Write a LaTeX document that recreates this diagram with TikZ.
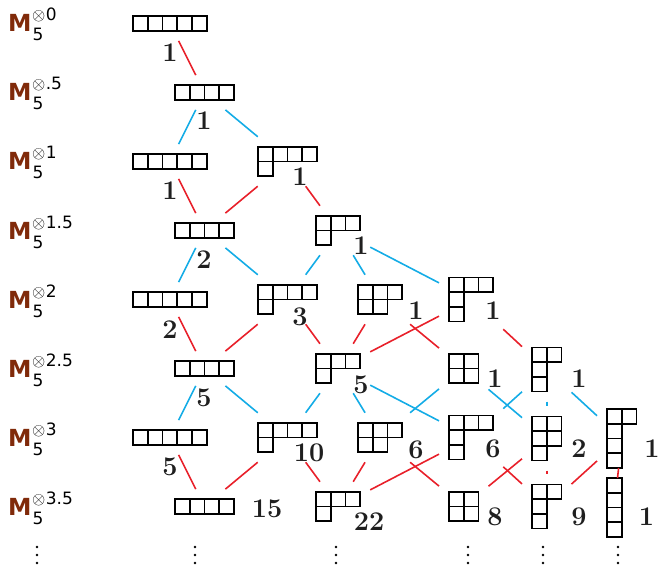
\documentclass[tikz,border=0pt]{standalone}
\usepackage{fix-cm}
\usepackage{fontspec}
\newfontfamily\labfont{DejaVu Sans}
\definecolor{mbrown}{RGB}{128,42,10}
\definecolor{myred}{RGB}{232,32,42}
\definecolor{myblue}{RGB}{20,172,230}
\def\cs{14.75}
\tikzset{
  tabnode/.style={inner sep=0pt, outer sep=0pt, rectangle},
  cell/.style={draw=black, line width=1.6pt, line join=miter},
  redl/.style={draw=myred, line width=1.6pt},
  bluel/.style={draw=myblue, line width=1.6pt},
  mult/.style={inner sep=0pt, text=black!88, font=\fontsize{27}{30}\selectfont\bfseries},
  mlab/.style={anchor=base west, inner sep=0pt, font=\labfont\fontsize{23.5}{28}\selectfont},
}
% name, left x, centre y, width in cells, height in cells, row lengths
\newcommand\ytab[6]{%
  \node[tabnode, minimum width={(#4*\cs+20)*1pt}, minimum height={(#5*\cs+20)*1pt}] (#1) at ({#2+#4*\cs/2},{#3}) {};
  \foreach \len [count=\rr from 0] in {#6} {
    \foreach \kk in {1,...,\len} {
      \draw[cell] ({#2+(\kk-1)*\cs},{#3-#5*\cs/2+\rr*\cs}) rectangle ++(\cs,\cs);
    }
  }
}
\newcommand\mlabtext[1]{\textcolor{mbrown}{\bfseries M}\kern1pt\rlap{\raisebox{-9pt}{\fontsize{17}{19}\selectfont 5}}\raisebox{11pt}{\fontsize{17}{19}\selectfont\kern-0.5pt$\otimes$\kern0.5pt#1}}
\begin{document}
\begin{tikzpicture}[x=1pt,y=-1pt]
\useasboundingbox (0,0) rectangle (660,569);

% row labels
\node[mlab] (L0) at (8,32) {\mlabtext{0}};
\node[mlab] (L1) at (8,101) {\mlabtext{.5}};
\node[mlab] (L2) at (8,170) {\mlabtext{1}};
\node[mlab] (L3) at (8,239) {\mlabtext{1.5}};
\node[mlab] (L4) at (8,308) {\mlabtext{2}};
\node[mlab] (L5) at (8,377) {\mlabtext{2.5}};
\node[mlab] (L6) at (8,446) {\mlabtext{3}};
\node[mlab] (L7) at (8,515) {\mlabtext{3.5}};

% tableaux
\ytab{a0}{133}{23.5}{5}{1}{5}
\ytab{b1}{175}{92.5}{4}{1}{4}
\ytab{a2}{133}{161.5}{5}{1}{5}
\ytab{c2}{258}{161.5}{4}{2}{4,1}
\ytab{b3}{175}{230.5}{4}{1}{4}
\ytab{d3}{316}{230.5}{3}{2}{3,1}
\ytab{a4}{133}{299.5}{5}{1}{5}
\ytab{c4}{258}{299.5}{4}{2}{4,1}
\ytab{e4}{358}{299.5}{3}{2}{3,2}
\ytab{f4}{449}{299.5}{3}{3}{3,1,1}
\ytab{b5}{175}{368.5}{4}{1}{4}
\ytab{d5}{316}{368.5}{3}{2}{3,1}
\ytab{g5}{449}{368.5}{2}{2}{2,2}
\ytab{h5}{532}{369.5}{2}{3}{2,1,1}
\ytab{a6}{133}{437.5}{5}{1}{5}
\ytab{c6}{258}{437.5}{4}{2}{4,1}
\ytab{e6}{358}{437.5}{3}{2}{3,2}
\ytab{f6}{449}{437.5}{3}{3}{3,1,1}
\ytab{i6}{532}{438.5}{2}{3}{2,2,1}
\ytab{j6}{607}{438.5}{2}{4}{2,1,1,1}
\ytab{b7}{175}{506.5}{4}{1}{4}
\ytab{d7}{316}{506.5}{3}{2}{3,1}
\ytab{g7}{449}{506.5}{2}{2}{2,2}
\ytab{h7}{532}{506.5}{2}{3}{2,1,1}
\ytab{k7}{607}{507.5}{1}{4}{1,1,1,1}

% connectors
\draw[redl] (a0) -- (b1);
\draw[bluel] (b1) -- (a2);
\draw[bluel] (b1) -- (c2);
\draw[redl] (a2) -- (b3);
\draw[redl] (c2) -- (b3);
\draw[redl] (c2) -- (d3);
\draw[bluel] (b3) -- (a4);
\draw[bluel] (b3) -- (c4);
\draw[bluel] (d3) -- (c4);
\draw[bluel] (d3) -- (e4);
\draw[bluel] (d3) -- (f4);
\draw[redl] (a4) -- (b5);
\draw[redl] (c4) -- (b5);
\draw[redl] (c4) -- (d5);
\draw[redl] (e4) -- (d5);
\draw[redl] (e4) -- (g5);
\draw[redl] (f4) -- (d5);
\draw[redl] (f4) -- (h5);
\draw[bluel] (b5) -- (a6);
\draw[bluel] (b5) -- (c6);
\draw[bluel] (d5) -- (c6);
\draw[bluel] (d5) -- (e6);
\draw[bluel] (d5) -- (f6);
\draw[bluel] (g5) -- (e6);
\draw[bluel] (g5) -- (i6);
\draw[bluel] (h5) -- (f6);
\draw[bluel] (h5) -- (i6);
\draw[bluel] (h5) -- (j6);
\draw[redl] (a6) -- (b7);
\draw[redl] (c6) -- (b7);
\draw[redl] (c6) -- (d7);
\draw[redl] (e6) -- (d7);
\draw[redl] (e6) -- (g7);
\draw[redl] (f6) -- (d7);
\draw[redl] (f6) -- (h7);
\draw[redl] (i6) -- (g7);
\draw[redl] (i6) -- (h7);
\draw[redl] (j6) -- (h7);
\draw[redl] (j6) -- (k7);

% multiplicities
\node[mult] (m0) at (170,53) {1};
\node[mult] (m1) at (204,121) {1};
\node[mult] (m2a) at (170,191) {1};
\node[mult] (m2c) at (300,177) {1};
\node[mult] (m3b) at (204,259.5) {2};
\node[mult] (m3d) at (361,246) {1};
\node[mult] (m4a) at (170,329.5) {2};
\node[mult] (m4c) at (300,317) {3};
\node[mult] (m4e) at (416,311) {1};
\node[mult] (m4f) at (493,311) {1};
\node[mult] (m5b) at (204,398) {5};
\node[mult] (m5d) at (361,385) {5};
\node[mult] (m5g) at (495,379) {1};
\node[mult] (m5h) at (579,379) {1};
\node[mult] (m6a) at (170,467) {5};
\node[mult] (m6c) at (309,453) {10};
\node[mult] (m6e) at (416,450) {6};
\node[mult] (m6f) at (493,449) {6};
\node[mult] (m6i) at (579,449) {2};
\node[mult] (m6j) at (652,449) {1};
\node[mult] (m7b) at (267,509) {15};
\node[mult] (m7d) at (369,522) {22};
\node[mult] (m7g) at (495,517) {8};
\node[mult] (m7h) at (579,517) {9};
\node[mult] (m7k) at (646.5,517) {1};

% continuation dots
\foreach \x in {37,195,336,468,543,618} {
  \foreach \y in {547,555,563} {
    \fill (\x,\y) circle (1.3);
  }
}
\end{tikzpicture}
\end{document}
